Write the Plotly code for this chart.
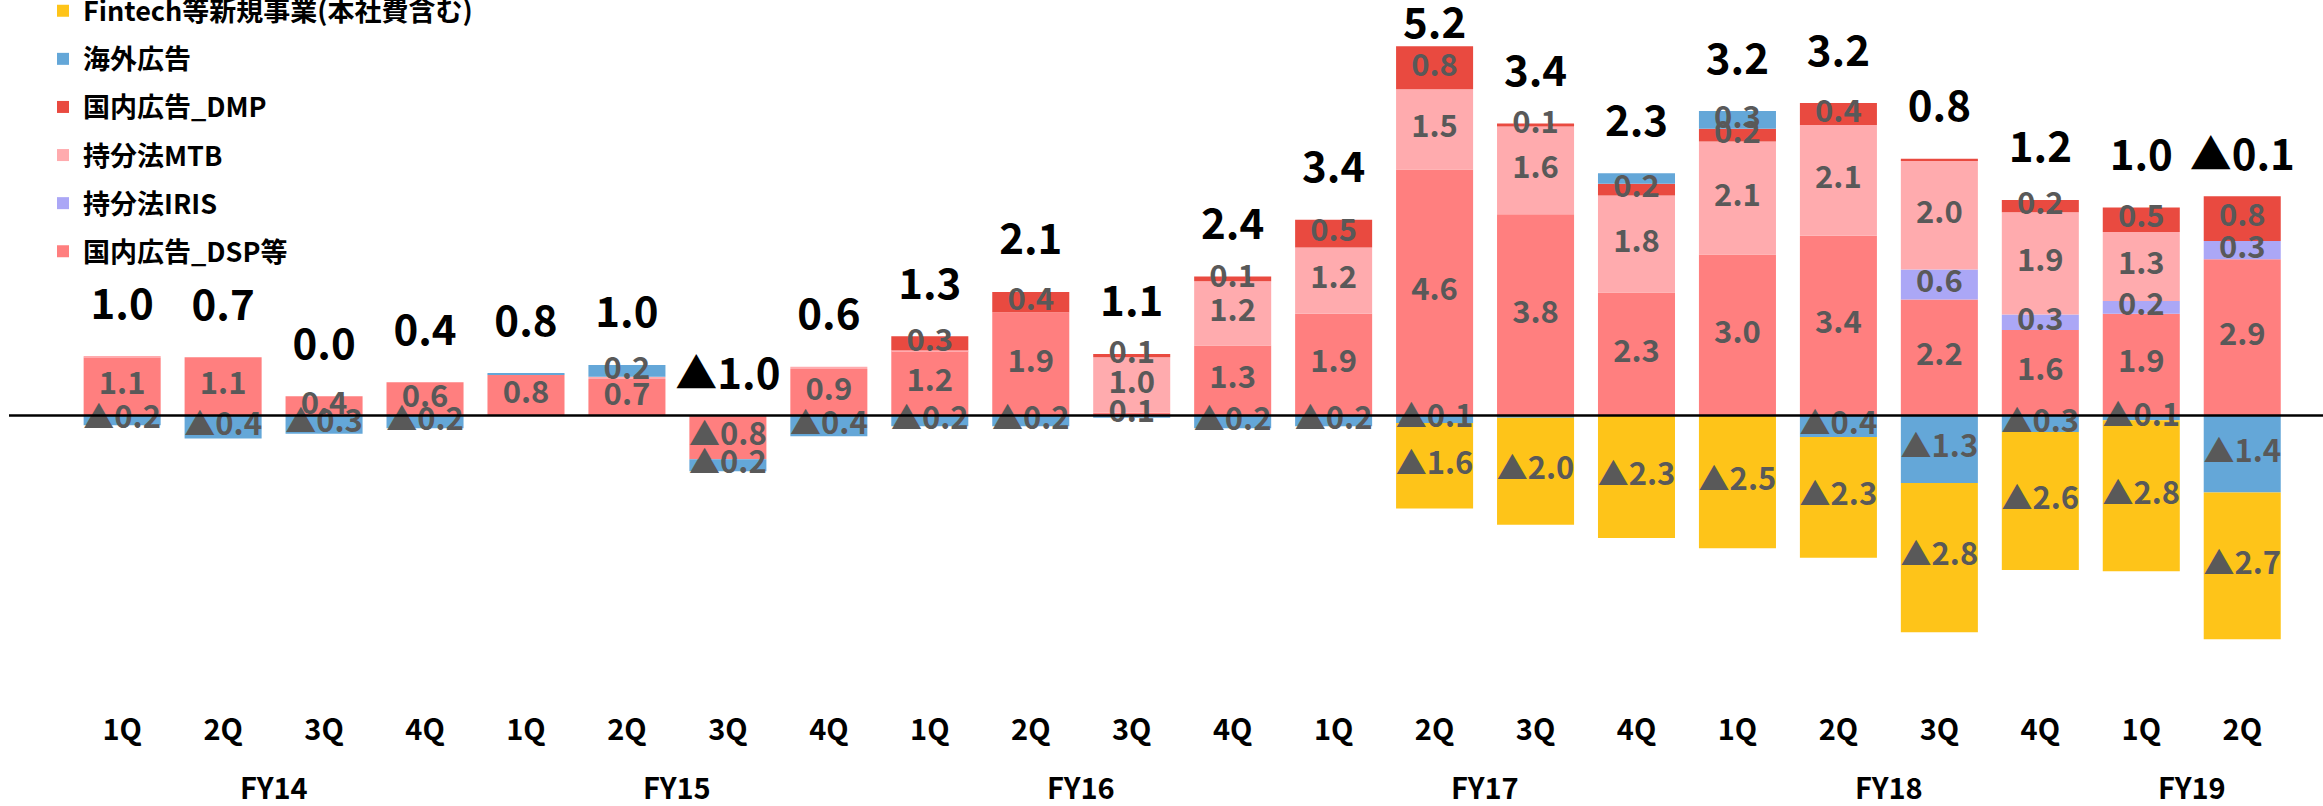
import plotly.graph_objects as go

# ---------------- data ----------------
quarters = ["1Q", "2Q", "3Q", "4Q", "1Q", "2Q", "3Q", "4Q", "1Q", "2Q", "3Q", "4Q",
            "1Q", "2Q", "3Q", "4Q", "1Q", "2Q", "3Q", "4Q", "1Q", "2Q"]
fy_of_quarter = ["FY14"] * 4 + ["FY15"] * 4 + ["FY16"] * 4 + ["FY17"] * 4 + ["FY18"] * 4 + ["FY19"] * 2
fiscal_years = ["FY14", "FY15", "FY16", "FY17", "FY18", "FY19"]

dsp = [1.08, 1.09, 0.36, 0.62, 0.76, 0.68, -0.82, 0.87, 1.20, 1.93, 0.05, 1.31,
       1.90, 4.60, 3.76, 2.30, 3.01, 3.36, 2.17, 1.60, 1.90, 2.92]
iris = [0, 0, 0, 0, 0, 0, 0, 0, 0, 0, 0, 0,
        0, 0, 0, 0, 0, 0, 0.56, 0.29, 0.24, 0.34]
mtb = [0.02, 0, 0, 0, 0, 0.045, 0, 0.04, 0.02, 0, 1.04, 1.20,
       1.24, 1.50, 1.64, 1.81, 2.11, 2.07, 2.04, 1.91, 1.29, 0]
dmp = [0, 0, 0, 0, 0, 0, 0, 0, 0.26, 0.38, 0.06, 0.09,
       0.52, 0.80, 0.06, 0.22, 0.24, 0.41, 0.03, 0.23, 0.46, 0.84]
overseas = [-0.18, -0.43, -0.34, -0.24, 0.03, 0.22, -0.22, -0.39, -0.20, -0.20, -0.04, -0.24,
            -0.20, -0.14, -0.04, 0.20, 0.33, -0.40, -1.26, -0.31, -0.09, -1.44]
fintech = [0, 0, 0, 0, 0, 0, 0, 0, 0, 0, 0, 0,
           0, -1.60, -2.00, -2.29, -2.48, -2.26, -2.79, -2.58, -2.82, -2.74]
totals = [1.0, 0.7, 0.0, 0.4, 0.8, 1.0, -1.0, 0.6, 1.3, 2.1, 1.1, 2.4,
          3.4, 5.2, 3.4, 2.3, 3.2, 3.2, 0.8, 1.2, 1.0, -0.1]

series_names = ["国内広告_DSP等", "持分法IRIS", "持分法MTB", "国内広告_DMP", "海外広告", "Fintech等新規事業(本社費含む)"]
series_values = [dsp, iris, mtb, dmp, overseas, fintech]
series_colors = ["#FF7F7F", "#ABA7F6", "#FFABAE", "#E94A40", "#64A7D8", "#FEC419"]
hidden_labels = {(15, "海外広告")}

# ---------------- layout constants ----------------
W, H = 2323, 806
MB = 106
PLOT_H = H - MB
ZERO_PX = 415.5
PX_PER_UNIT = 53.5
Y_TOP = ZERO_PX / PX_PER_UNIT
Y_BOT = -(PLOT_H - ZERO_PX) / PX_PER_UNIT
X_MIN, X_MAX = -1.21, 21.80
FONT = "Noto Sans CJK JP, Noto Sans, sans-serif"


def fmt(v):
    s = f"{abs(v):.1f}"
    return ("▲" + s) if (v < 0 and s != "0.0") else s


x = list(range(len(quarters)))
fig = go.Figure()

n_series = len(series_names)
for k, (name, vals, col) in enumerate(zip(series_names, series_values, series_colors)):
    fig.add_trace(go.Bar(x=x, y=vals, name=name, marker_color=col, marker_line_width=0,
                         legendgroup=name, legendrank=n_series - k, hoverinfo="skip"))

# segment labels
pos_base = [0.0] * len(x)
neg_base = [0.0] * len(x)
lx, ly, lt = [], [], []
for name, vals in zip(series_names, series_values):
    for i, v in enumerate(vals):
        if v >= 0:
            c = pos_base[i] + v / 2
            pos_base[i] += v
        else:
            c = neg_base[i] + v / 2
            neg_base[i] += v
        if abs(v) >= 0.05 and (i, name) not in hidden_labels:
            lx.append(i)
            ly.append(c)
            lt.append(fmt(v))

fig.add_trace(go.Scatter(x=lx, y=ly, text=lt, mode="text", showlegend=False,
                         cliponaxis=False, hoverinfo="skip",
                         textfont=dict(family=FONT, size=31, color="#595959", weight="bold")))

# total labels
cap = Y_TOP - 27 / PX_PER_UNIT
ty = []
for i, t in enumerate(totals):
    gap = 48 if t >= 0 else 37
    ty.append(min(pos_base[i] + gap / PX_PER_UNIT, cap))
fig.add_trace(go.Scatter(x=x, y=ty, text=[fmt(t) for t in totals], mode="text", showlegend=False,
                         cliponaxis=False, hoverinfo="skip",
                         textfont=dict(family=FONT, size=42, color="#000000", weight="bold")))

# fiscal-year labels
for fy in fiscal_years:
    idx = [i for i, f in enumerate(fy_of_quarter) if f == fy]
    fig.add_annotation(x=sum(idx) / len(idx), y=-(786 - PLOT_H) / PLOT_H, xref="x", yref="paper",
                       text=fy, showarrow=False, yanchor="middle",
                       font=dict(family=FONT, size=29, color="#000000", weight="bold"))

fig.add_shape(type="line", xref="paper", yref="y", x0=9 / W, x1=1, y0=0, y1=0,
              line=dict(color="#000000", width=2.5), layer="above")

fig.update_layout(
    width=W, height=H,
    margin=dict(l=0, r=0, t=0, b=MB, autoexpand=False),
    barmode="relative", bargap=0.237,
    plot_bgcolor="white", paper_bgcolor="white",
    font=dict(family=FONT),
    showlegend=True,
    legend=dict(x=43 / W, y=1.019, xanchor="left", yanchor="top",
                traceorder="grouped", tracegroupgap=10,
                font=dict(family=FONT, size=27, color="#000000", weight="bold"),
                bgcolor="rgba(0,0,0,0)", borderwidth=0),
    xaxis=dict(range=[X_MIN, X_MAX], tickmode="array", tickvals=x, ticktext=quarters,
               showgrid=False, zeroline=False, showline=False, ticks="",
               ticklabelstandoff=10, automargin=False,
               tickfont=dict(family=FONT, size=29, color="#000000", weight="bold")),
    yaxis=dict(range=[Y_BOT, Y_TOP], visible=False, showgrid=False, zeroline=False),
)

fig.write_html("out.html", config={"displayModeBar": False},
               post_script="document.body.style.margin='0';")
